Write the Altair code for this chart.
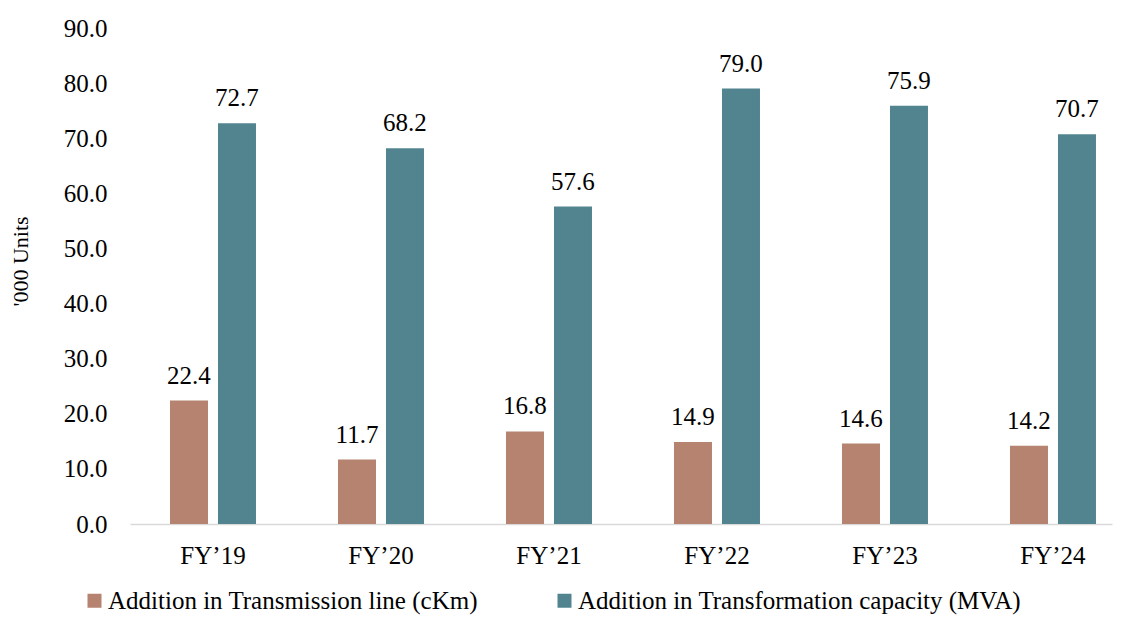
import altair as alt
import pandas as pd

years = ["FY\u201919", "FY\u201920", "FY\u201921", "FY\u201922", "FY\u201923", "FY\u201924"]
series_names = ["Addition in Transmission line (cKm)", "Addition in Transformation capacity (MVA)"]
transmission = [22.4, 11.7, 16.8, 14.9, 14.6, 14.2]
transformation = [72.7, 68.2, 57.6, 79.0, 75.9, 70.7]
colors = ["#B5836F", "#528490"]
y_ticks = [0, 10, 20, 30, 40, 50, 60, 70, 80, 90]

rows = []
for i, y in enumerate(years):
    rows.append({"year": y, "series": series_names[0], "value": transmission[i]})
    rows.append({"year": y, "series": series_names[1], "value": transformation[i]})
df = pd.DataFrame(rows)

FONT = "Liberation Serif"
FS = 25

x_enc = alt.X("year:N", sort=years, title=None,
              scale=alt.Scale(paddingInner=0.4881, paddingOuter=0.1667, align=0.714),
              axis=alt.Axis(labelAngle=0, ticks=False, domainColor="#D9D9D9", domainWidth=1.5,
                            labelFont=FONT, labelFontSize=FS, labelColor="#000000",
                            labelPadding=19))
xoff = alt.XOffset("series:N", sort=series_names,
                   scale=alt.Scale(paddingInner=0.2083, paddingOuter=0))
y_enc = alt.Y("value:Q", title="'000 Units",
              scale=alt.Scale(domain=[0, 90], nice=False),
              axis=alt.Axis(values=y_ticks, format=".1f", grid=False, ticks=False, domain=False,
                            labelFont=FONT, labelFontSize=FS, labelColor="#000000", labelPadding=23,
                            titleFont=FONT, titleFontSize=22, titleFontWeight="normal",
                            titleColor="#000000", titleX=-98, titleY=233, titleAngle=-90))

bars = alt.Chart(df).mark_bar().encode(
    x=x_enc,
    xOffset=xoff,
    y=y_enc,
    color=alt.Color("series:N", sort=series_names, title=None,
                    scale=alt.Scale(domain=series_names, range=colors),
                    legend=alt.Legend(orient="none", legendX=-48, legendY=560,
                                      direction="horizontal", symbolType="square",
                                      symbolSize=196, symbolStrokeWidth=0,
                                      labelFont=FONT, labelFontSize=FS, labelColor="#000000",
                                      labelOffset=1, columnPadding=74, labelLimit=600)),
)

labels = alt.Chart(df).mark_text(baseline="alphabetic", dy=-17, font=FONT, fontSize=FS,
                                 color="#000000").encode(
    x=alt.X("year:N", sort=years),
    xOffset=alt.XOffset("series:N", sort=series_names),
    y=alt.Y("value:Q"),
    text=alt.Text("value:Q", format=".1f"),
)

chart = alt.layer(bars, labels).properties(
    width=982, height=496,
    autosize=alt.AutoSizeParams(type="none"),
    padding={"left": 122, "top": 20, "right": 4, "bottom": 92},
).configure_view(stroke=None)

chart.save("out.html", embed_options={"renderer": "svg", "actions": False})
